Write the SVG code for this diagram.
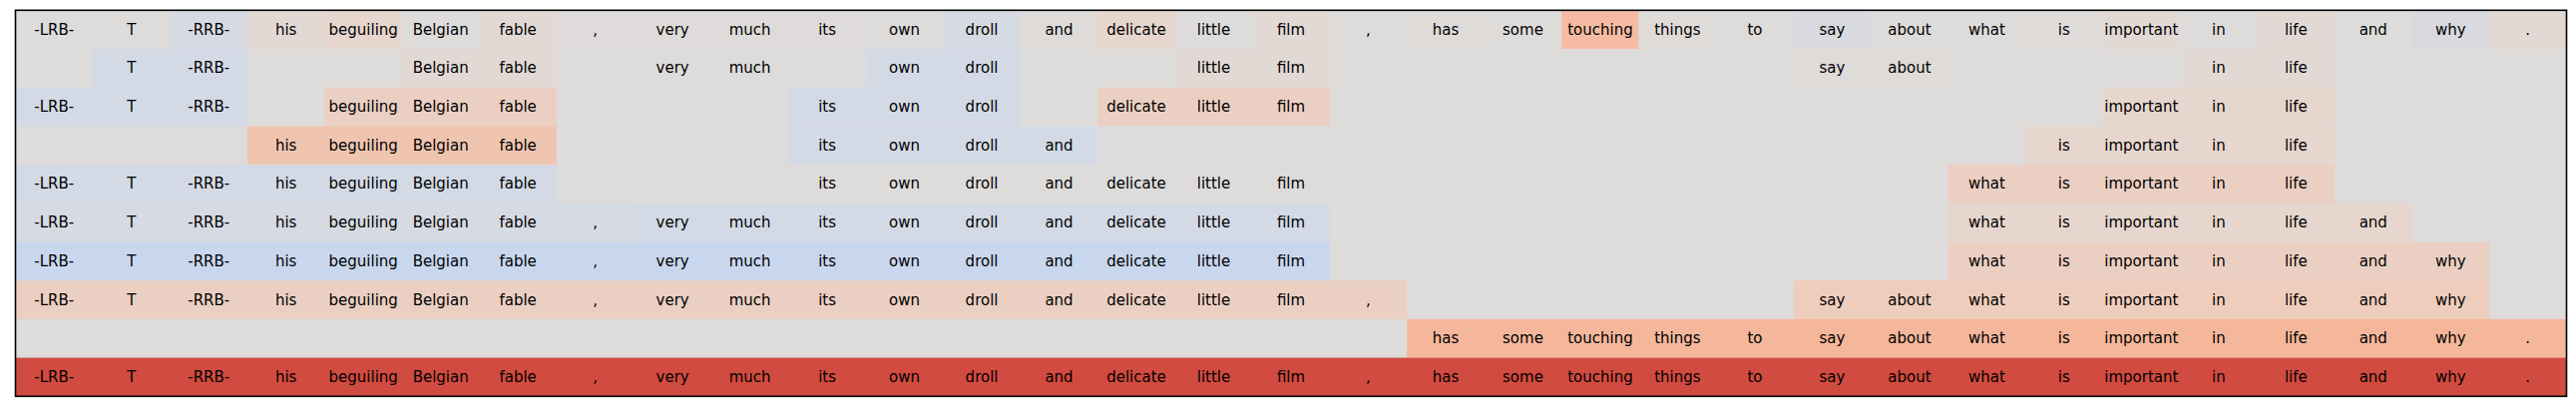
<svg xmlns="http://www.w3.org/2000/svg" width="2582" height="412" viewBox="0 0 2582 412">
<style>
text{font-family:"DejaVu Sans","Liberation Sans",sans-serif;font-size:15px;fill:#000;text-anchor:middle}
.G{fill:#dddcdb}
.b0{fill:#d8dadf}
.b1{fill:#d6dae2}
.b2{fill:#d3dae6}
.b2g{fill:#d6dae2}
.b3{fill:#c9d7ee}
.p0{fill:#dfdbd9}
.pq{fill:#dedbda}
.p1{fill:#e2d9d5}
.p2{fill:#e6d6cd}
.p3{fill:#ebcfc2}
.p3b{fill:#efcdbc}
.p4{fill:#f0c5b0}
.p5{fill:#f5b79b}
.pt{fill:#f5bca3}
.R{fill:#d24b40}
</style>
<rect x="0" y="0" width="2582" height="412" fill="#ffffff"/>
<g id="heatmap" transform="translate(15.5,10.3)">
<rect class="G" x="0" y="0" width="2557" height="387"/>
<g id="row0">
<rect class="b1" x="154.97" y="0" width="77.49" height="38.7"/>
<rect class="p1" x="232.455" y="0" width="77.49" height="38.7"/>
<rect class="p2" x="309.94" y="0" width="77.49" height="38.7"/>
<rect class="p1" x="464.91" y="0" width="77.49" height="38.7"/>
<rect class="pq" x="542.395" y="0" width="309.94" height="38.7"/>
<rect class="b1" x="929.82" y="0" width="77.49" height="38.7"/>
<rect class="p0" x="1007.305" y="0" width="77.49" height="38.7"/>
<rect class="p2" x="1084.79" y="0" width="77.49" height="38.7"/>
<rect class="p1" x="1239.76" y="0" width="77.49" height="38.7"/>
<rect class="p0" x="1394.73" y="0" width="77.49" height="38.7"/>
<rect class="pt" x="1549.7" y="0" width="77.49" height="38.7"/>
<rect class="p0" x="1627.185" y="0" width="77.49" height="38.7"/>
<rect class="b0" x="1782.155" y="0" width="77.49" height="38.7"/>
<rect class="p0" x="2014.61" y="0" width="77.49" height="38.7"/>
<rect class="p1" x="2092.095" y="0" width="77.49" height="38.7"/>
<rect class="p1" x="2247.065" y="0" width="77.49" height="38.7"/>
<rect class="b0" x="2402.035" y="0" width="77.49" height="38.7"/>
<rect class="p1" x="2479.52" y="0" width="77.49" height="38.7"/>
<text x="38.74" y="24.35">-LRB-</text><text x="116.23" y="24.35">T</text><text x="193.71" y="24.35">-RRB-</text><text x="271.2" y="24.35">his</text><text x="348.68" y="24.35">beguiling</text><text x="426.17" y="24.35">Belgian</text><text x="503.65" y="24.35">fable</text><text x="581.14" y="24.35">,</text><text x="658.62" y="24.35">very</text><text x="736.11" y="24.35">much</text><text x="813.59" y="24.35">its</text><text x="891.08" y="24.35">own</text><text x="968.56" y="24.35">droll</text><text x="1046.05" y="24.35">and</text><text x="1123.53" y="24.35">delicate</text><text x="1201.02" y="24.35">little</text><text x="1278.5" y="24.35">film</text><text x="1355.99" y="24.35">,</text><text x="1433.47" y="24.35">has</text><text x="1510.96" y="24.35">some</text><text x="1588.44" y="24.35">touching</text><text x="1665.93" y="24.35">things</text><text x="1743.41" y="24.35">to</text><text x="1820.9" y="24.35">say</text><text x="1898.38" y="24.35">about</text><text x="1975.87" y="24.35">what</text><text x="2053.35" y="24.35">is</text><text x="2130.84" y="24.35">important</text><text x="2208.32" y="24.35">in</text><text x="2285.81" y="24.35">life</text><text x="2363.29" y="24.35">and</text><text x="2440.78" y="24.35">why</text><text x="2518.26" y="24.35">.</text>
</g>
<g id="row1" transform="translate(0,38.7)">
<rect class="b2" x="77.485" y="0" width="154.97" height="38.7"/>
<rect class="p1" x="387.425" y="0" width="154.97" height="38.7"/>
<rect class="b2" x="852.335" y="0" width="154.97" height="38.7"/>
<rect class="p1" x="1162.275" y="0" width="154.97" height="38.7"/>
<rect class="p0" x="1782.155" y="0" width="154.97" height="38.7"/>
<rect class="p1" x="2169.58" y="0" width="154.97" height="38.7"/>
<text x="116.23" y="24.35">T</text><text x="193.71" y="24.35">-RRB-</text><text x="426.17" y="24.35">Belgian</text><text x="503.65" y="24.35">fable</text><text x="658.62" y="24.35">very</text><text x="736.11" y="24.35">much</text><text x="891.08" y="24.35">own</text><text x="968.56" y="24.35">droll</text><text x="1201.02" y="24.35">little</text><text x="1278.5" y="24.35">film</text><text x="1820.9" y="24.35">say</text><text x="1898.38" y="24.35">about</text><text x="2208.32" y="24.35">in</text><text x="2285.81" y="24.35">life</text>
</g>
<g id="row2" transform="translate(0,77.4)">
<rect class="b2" x="0" y="0" width="232.455" height="38.7"/>
<rect class="p3" x="309.94" y="0" width="232.455" height="38.7"/>
<rect class="b2" x="774.85" y="0" width="232.455" height="38.7"/>
<rect class="p3" x="1084.79" y="0" width="232.455" height="38.7"/>
<rect class="p2" x="2092.095" y="0" width="232.455" height="38.7"/>
<text x="38.74" y="24.35">-LRB-</text><text x="116.23" y="24.35">T</text><text x="193.71" y="24.35">-RRB-</text><text x="348.68" y="24.35">beguiling</text><text x="426.17" y="24.35">Belgian</text><text x="503.65" y="24.35">fable</text><text x="813.59" y="24.35">its</text><text x="891.08" y="24.35">own</text><text x="968.56" y="24.35">droll</text><text x="1123.53" y="24.35">delicate</text><text x="1201.02" y="24.35">little</text><text x="1278.5" y="24.35">film</text><text x="2130.84" y="24.35">important</text><text x="2208.32" y="24.35">in</text><text x="2285.81" y="24.35">life</text>
</g>
<g id="row3" transform="translate(0,116.1)">
<rect class="p4" x="232.455" y="0" width="309.94" height="38.7"/>
<rect class="b2" x="774.85" y="0" width="309.94" height="38.7"/>
<rect class="p2" x="2014.61" y="0" width="309.94" height="38.7"/>
<text x="271.2" y="24.35">his</text><text x="348.68" y="24.35">beguiling</text><text x="426.17" y="24.35">Belgian</text><text x="503.65" y="24.35">fable</text><text x="813.59" y="24.35">its</text><text x="891.08" y="24.35">own</text><text x="968.56" y="24.35">droll</text><text x="1046.05" y="24.35">and</text><text x="2053.35" y="24.35">is</text><text x="2130.84" y="24.35">important</text><text x="2208.32" y="24.35">in</text><text x="2285.81" y="24.35">life</text>
</g>
<g id="row4" transform="translate(0,154.8)">
<rect class="b2" x="0" y="0" width="542.395" height="38.7"/>
<rect class="p3" x="1937.125" y="0" width="387.425" height="38.7"/>
<text x="38.74" y="24.35">-LRB-</text><text x="116.23" y="24.35">T</text><text x="193.71" y="24.35">-RRB-</text><text x="271.2" y="24.35">his</text><text x="348.68" y="24.35">beguiling</text><text x="426.17" y="24.35">Belgian</text><text x="503.65" y="24.35">fable</text><text x="813.59" y="24.35">its</text><text x="891.08" y="24.35">own</text><text x="968.56" y="24.35">droll</text><text x="1046.05" y="24.35">and</text><text x="1123.53" y="24.35">delicate</text><text x="1201.02" y="24.35">little</text><text x="1278.5" y="24.35">film</text><text x="1975.87" y="24.35">what</text><text x="2053.35" y="24.35">is</text><text x="2130.84" y="24.35">important</text><text x="2208.32" y="24.35">in</text><text x="2285.81" y="24.35">life</text>
</g>
<g id="row5" transform="translate(0,193.5)">
<rect class="b2g" x="0" y="0" width="619.88" height="38.7"/>
<rect class="b2" x="619.88" y="0" width="697.365" height="38.7"/>
<rect class="p2" x="1937.125" y="0" width="464.91" height="38.7"/>
<text x="38.74" y="24.35">-LRB-</text><text x="116.23" y="24.35">T</text><text x="193.71" y="24.35">-RRB-</text><text x="271.2" y="24.35">his</text><text x="348.68" y="24.35">beguiling</text><text x="426.17" y="24.35">Belgian</text><text x="503.65" y="24.35">fable</text><text x="581.14" y="24.35">,</text><text x="658.62" y="24.35">very</text><text x="736.11" y="24.35">much</text><text x="813.59" y="24.35">its</text><text x="891.08" y="24.35">own</text><text x="968.56" y="24.35">droll</text><text x="1046.05" y="24.35">and</text><text x="1123.53" y="24.35">delicate</text><text x="1201.02" y="24.35">little</text><text x="1278.5" y="24.35">film</text><text x="1975.87" y="24.35">what</text><text x="2053.35" y="24.35">is</text><text x="2130.84" y="24.35">important</text><text x="2208.32" y="24.35">in</text><text x="2285.81" y="24.35">life</text><text x="2363.29" y="24.35">and</text>
</g>
<g id="row6" transform="translate(0,232.2)">
<rect class="b3" x="0" y="0" width="1317.245" height="38.7"/>
<rect class="p3" x="1937.125" y="0" width="542.395" height="38.7"/>
<text x="38.74" y="24.35">-LRB-</text><text x="116.23" y="24.35">T</text><text x="193.71" y="24.35">-RRB-</text><text x="271.2" y="24.35">his</text><text x="348.68" y="24.35">beguiling</text><text x="426.17" y="24.35">Belgian</text><text x="503.65" y="24.35">fable</text><text x="581.14" y="24.35">,</text><text x="658.62" y="24.35">very</text><text x="736.11" y="24.35">much</text><text x="813.59" y="24.35">its</text><text x="891.08" y="24.35">own</text><text x="968.56" y="24.35">droll</text><text x="1046.05" y="24.35">and</text><text x="1123.53" y="24.35">delicate</text><text x="1201.02" y="24.35">little</text><text x="1278.5" y="24.35">film</text><text x="1975.87" y="24.35">what</text><text x="2053.35" y="24.35">is</text><text x="2130.84" y="24.35">important</text><text x="2208.32" y="24.35">in</text><text x="2285.81" y="24.35">life</text><text x="2363.29" y="24.35">and</text><text x="2440.78" y="24.35">why</text>
</g>
<g id="row7" transform="translate(0,270.9)">
<rect class="p3" x="0" y="0" width="1394.73" height="38.7"/>
<rect class="p3b" x="1782.155" y="0" width="697.365" height="38.7"/>
<text x="38.74" y="24.35">-LRB-</text><text x="116.23" y="24.35">T</text><text x="193.71" y="24.35">-RRB-</text><text x="271.2" y="24.35">his</text><text x="348.68" y="24.35">beguiling</text><text x="426.17" y="24.35">Belgian</text><text x="503.65" y="24.35">fable</text><text x="581.14" y="24.35">,</text><text x="658.62" y="24.35">very</text><text x="736.11" y="24.35">much</text><text x="813.59" y="24.35">its</text><text x="891.08" y="24.35">own</text><text x="968.56" y="24.35">droll</text><text x="1046.05" y="24.35">and</text><text x="1123.53" y="24.35">delicate</text><text x="1201.02" y="24.35">little</text><text x="1278.5" y="24.35">film</text><text x="1355.99" y="24.35">,</text><text x="1820.9" y="24.35">say</text><text x="1898.38" y="24.35">about</text><text x="1975.87" y="24.35">what</text><text x="2053.35" y="24.35">is</text><text x="2130.84" y="24.35">important</text><text x="2208.32" y="24.35">in</text><text x="2285.81" y="24.35">life</text><text x="2363.29" y="24.35">and</text><text x="2440.78" y="24.35">why</text>
</g>
<g id="row8" transform="translate(0,309.6)">
<rect class="p5" x="1394.73" y="0" width="1162.275" height="38.7"/>
<text x="1433.47" y="24.35">has</text><text x="1510.96" y="24.35">some</text><text x="1588.44" y="24.35">touching</text><text x="1665.93" y="24.35">things</text><text x="1743.41" y="24.35">to</text><text x="1820.9" y="24.35">say</text><text x="1898.38" y="24.35">about</text><text x="1975.87" y="24.35">what</text><text x="2053.35" y="24.35">is</text><text x="2130.84" y="24.35">important</text><text x="2208.32" y="24.35">in</text><text x="2285.81" y="24.35">life</text><text x="2363.29" y="24.35">and</text><text x="2440.78" y="24.35">why</text><text x="2518.26" y="24.35">.</text>
</g>
<g id="row9" transform="translate(0,348.3)">
<rect class="R" x="0" y="0" width="2557" height="38.7"/>
<text x="38.74" y="24.35">-LRB-</text><text x="116.23" y="24.35">T</text><text x="193.71" y="24.35">-RRB-</text><text x="271.2" y="24.35">his</text><text x="348.68" y="24.35">beguiling</text><text x="426.17" y="24.35">Belgian</text><text x="503.65" y="24.35">fable</text><text x="581.14" y="24.35">,</text><text x="658.62" y="24.35">very</text><text x="736.11" y="24.35">much</text><text x="813.59" y="24.35">its</text><text x="891.08" y="24.35">own</text><text x="968.56" y="24.35">droll</text><text x="1046.05" y="24.35">and</text><text x="1123.53" y="24.35">delicate</text><text x="1201.02" y="24.35">little</text><text x="1278.5" y="24.35">film</text><text x="1355.99" y="24.35">,</text><text x="1433.47" y="24.35">has</text><text x="1510.96" y="24.35">some</text><text x="1588.44" y="24.35">touching</text><text x="1665.93" y="24.35">things</text><text x="1743.41" y="24.35">to</text><text x="1820.9" y="24.35">say</text><text x="1898.38" y="24.35">about</text><text x="1975.87" y="24.35">what</text><text x="2053.35" y="24.35">is</text><text x="2130.84" y="24.35">important</text><text x="2208.32" y="24.35">in</text><text x="2285.81" y="24.35">life</text><text x="2363.29" y="24.35">and</text><text x="2440.78" y="24.35">why</text><text x="2518.26" y="24.35">.</text>
</g>
<rect x="0" y="0" width="2557" height="387" fill="none" stroke="#000" stroke-width="1.6"/>
</g>
</svg>
